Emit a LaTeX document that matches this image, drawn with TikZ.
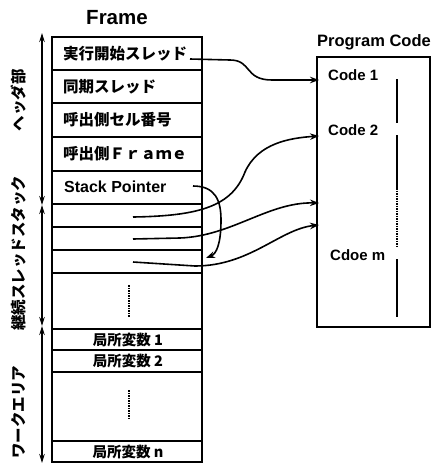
\documentclass[tikz,border=0pt]{standalone}
\usepackage{fontspec}
\setmainfont{Liberation Sans}
\newfontfamily\cjk{Noto Sans CJK JP}
\usetikzlibrary{arrows.meta}
\begin{document}
\begin{tikzpicture}[x=1pt,y=-1pt,
  box/.style={line width=1.8pt},
  row/.style={line width=1.5pt},
  conn/.style={line width=1.6pt,-{Stealth[length=9pt,width=6.5pt]}},
  span/.style={line width=1.5pt,{Stealth[length=9pt,width=5.5pt]}-{Stealth[length=9pt,width=5.5pt]}},
  jtxt/.style={anchor=west,inner sep=0pt,font=\cjk\bfseries\fontsize{15.5}{16}\selectfont},
  ctxt/.style={inner sep=0pt,font=\cjk\bfseries\fontsize{14.5}{15}\selectfont},
  vlab/.style={inner sep=0pt,rotate=90,font=\cjk\bfseries\fontsize{15.5}{16}\selectfont},
  ltxt/.style={anchor=west,inner sep=0pt,font=\bfseries\fontsize{15}{16}\selectfont},
  title/.style={inner sep=0pt,font=\bfseries},
  dots/.style={line width=2pt,dash pattern=on 1.5pt off 1pt},
  vline/.style={line width=1.8pt}]
\useasboundingbox (0,0) rectangle (431,464);

% titles
\node[title,font=\bfseries\fontsize{20.5}{21}\selectfont] (ft) at (117,18) {Frame};
\node[title,font=\bfseries\fontsize{16.5}{17}\selectfont] (pt) at (374,42) {Program Code};

% frame box
\draw[box] (52,37) rectangle (202,462);
\foreach \yy in {70,103,137,171,204,227,250,273,329,350,372,441}
  \draw[row] (52,\yy) -- (202,\yy);

\node[jtxt] (r1) at (63,54) {実行開始スレッド};
\node[jtxt] (r2) at (63,87) {同期スレッド};
\node[jtxt] (r3) at (63,120) {呼出側セル番号};
\node[jtxt] (r4) at (63,154) {呼出側Ｆｒａｍｅ};
\node[ltxt,font=\bfseries\fontsize{16}{17}\selectfont] (r5) at (64,187) {Stack Pointer};
\node[ctxt] (r10) at (128,340) {局所変数 1};
\node[ctxt] (r11) at (128,361) {局所変数 2};
\node[ctxt] (r13) at (128,452) {局所変数 n};

\draw[dots] (129,285) -- (129,317);
\draw[dots] (129,390) -- (129,420);

% left spans
\coordinate (a0) at (42,33);
\coordinate (a1) at (42,205);
\coordinate (a2) at (42,326);
\coordinate (a3) at (42,463);
\draw[span] (a0) -- (a1);
\draw[span] (a1) -- (a2);
\draw[span] (a2) -- (a3);
\node[vlab] (l1) at (19,100) {ヘッダ部};
\node[vlab] (l2) at (19,253) {継続スレッドスタック};
\node[vlab] (l3) at (19,412) {ワークエリア};

% program code box
\draw[box] (317,57) rectangle (430,327);
\node[ltxt] (c1) at (328,75) {Code 1};
\node[ltxt] (c2) at (328,130) {Code 2};
\node[ltxt] (cm) at (330,255) {Cdoe m};
\draw[vline] (397,79) -- (397,123);
\draw[vline] (397,135) -- (397,188);
\draw[dots] (397,188) -- (397,247);
\draw[vline] (397,259) -- (397,317);

% connectors
\coordinate (s1) at (190,59);
\coordinate (t1) at (319,80);
\coordinate (s2) at (133,217);
\coordinate (t2) at (319,136);
\coordinate (s3) at (133,239);
\coordinate (t3) at (319,203);
\coordinate (s4) at (133,262);
\coordinate (t4) at (319,225);
\coordinate (s5) at (193,186);
\coordinate (t5) at (206,258);

\draw[conn] (s1) -- (230,60) .. controls (252,60) and (244,80) .. (272,80) -- (t1);
\draw[conn] (s2) .. controls (200,216) and (232,206) .. (245,172) .. controls (258,143) and (290,138) .. (t2);
\draw[conn] (s3) -- (180,238) .. controls (232,236) and (268,202) .. (t3);
\draw[conn] (s4) -- (195,266) .. controls (250,266) and (280,229) .. (t4);
\draw[conn] (s5) .. controls (215,186) and (221,200) .. (221,220) .. controls (221,245) and (216,254) .. (t5);
\end{tikzpicture}
\end{document}
